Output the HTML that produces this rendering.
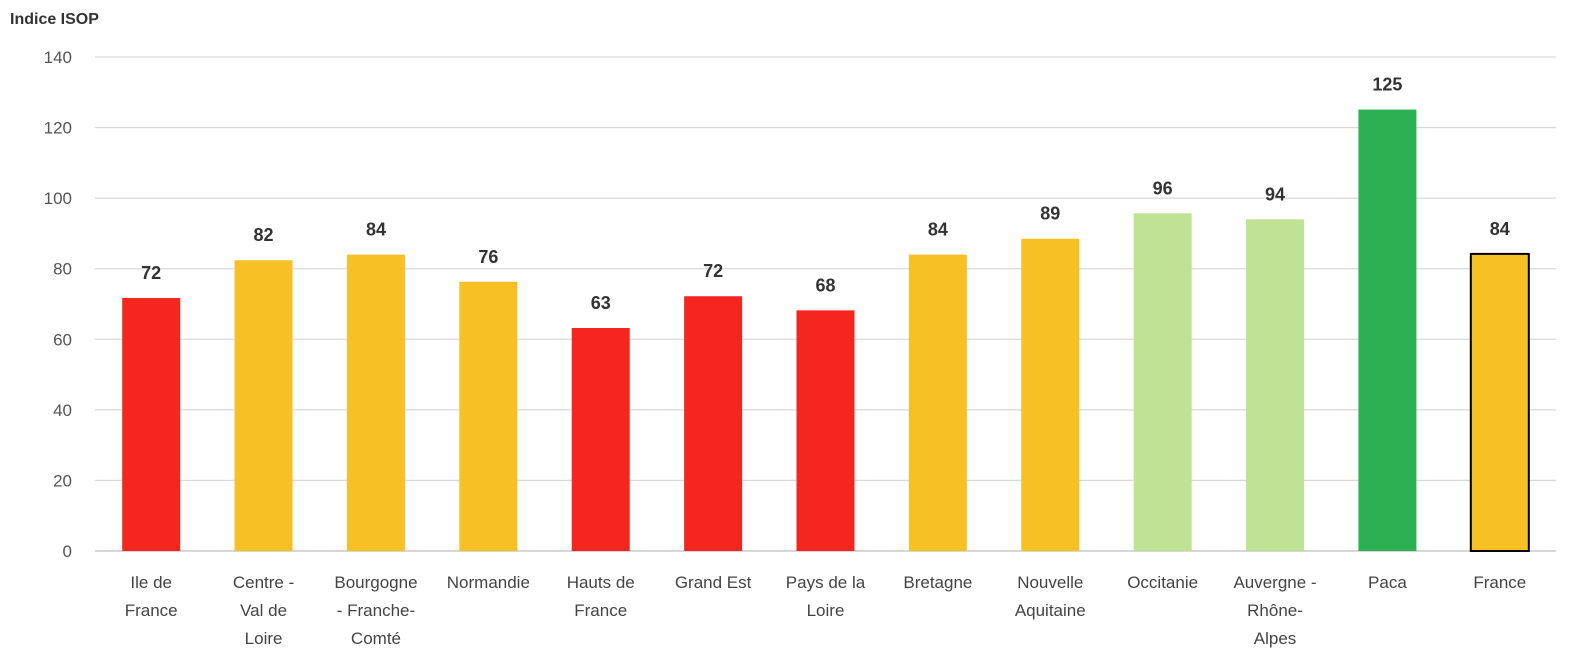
<!DOCTYPE html>
<html><head><meta charset="utf-8"><style>
body{margin:0;background:#fff;}
svg{display:block;font-family:"Liberation Sans",Arial,sans-serif;}
</style></head><body>
<svg id="chart" width="1582" height="663" viewBox="0 0 1582 663">
<text x="10" y="24" font-size="16" font-weight="bold" fill="#333">Indice ISOP</text>
<g id="grid"></g><g id="bars"></g><g id="labels"></g><g id="ticks"></g><g id="cats"></g>
</svg>
<script>
const categories=[["Ile de","France"],["Centre -","Val de","Loire"],["Bourgogne","- Franche-","Comté"],["Normandie"],["Hauts de","France"],["Grand Est"],["Pays de la","Loire"],["Bretagne"],["Nouvelle","Aquitaine"],["Occitanie"],["Auvergne -","Rhône-","Alpes"],["Paca"],["France"]];
const values=[71.7,82.4,84,76.3,63.2,72.2,68.2,84,88.5,95.7,94,125.1,84.2];
const colorClass=["red","yellow","yellow","yellow","red","red","red","yellow","yellow","lightgreen","lightgreen","green","yellow"];
const yTicks=[0,20,40,60,80,100,120,140];
const palette={red:"#F5261F",yellow:"#F7C126",lightgreen:"#BFE294",green:"#2DB052"};
const NS="http://www.w3.org/2000/svg";
const left=95,right=1556,y0=551,y1=57,yMax=140;
const y=v=>y0-(v/yMax)*(y0-y1);
const band=(right-left)/categories.length;
const xc=i=>left+band*(i+0.5);
const bw=58;
function mk(tag,attrs,parent){const e=document.createElementNS(NS,tag);for(const k in attrs)e.setAttribute(k,attrs[k]);document.getElementById(parent).appendChild(e);return e;}
yTicks.forEach(t=>{
  const l=mk("line",{x1:left,x2:right,y1:y(t),y2:y(t),stroke:t===0?"#bfbfbf":"#d9d9d9","stroke-width":1.3},"grid");
  
  
  const tx=mk("text",{x:72,y:y(t)+6,"text-anchor":"end","font-size":17,fill:"#555"},"ticks");
  tx.textContent=t;
  
  
});
values.forEach((v,i)=>{
  const isFr=i===categories.length-1;
  const r=mk("rect",{x:xc(i)-bw/2,y:y(v),width:bw,height:y0-y(v),fill:palette[colorClass[i]],stroke:isFr?"#000":"none","stroke-width":isFr?2:0},"bars");
  
  
  const lb=mk("text",{x:xc(i),y:y(v)-19,"text-anchor":"middle","font-size":18,"font-weight":"bold",fill:"#333"},"labels");
  lb.textContent=Math.round(v);
  
  
  categories[i].forEach((s,j)=>{
    const c=mk("text",{x:xc(i),y:588+j*28,"text-anchor":"middle","font-size":17,fill:"#444"},"cats");
    c.textContent=s;
    
    
  });
});
</script>
</body></html>
